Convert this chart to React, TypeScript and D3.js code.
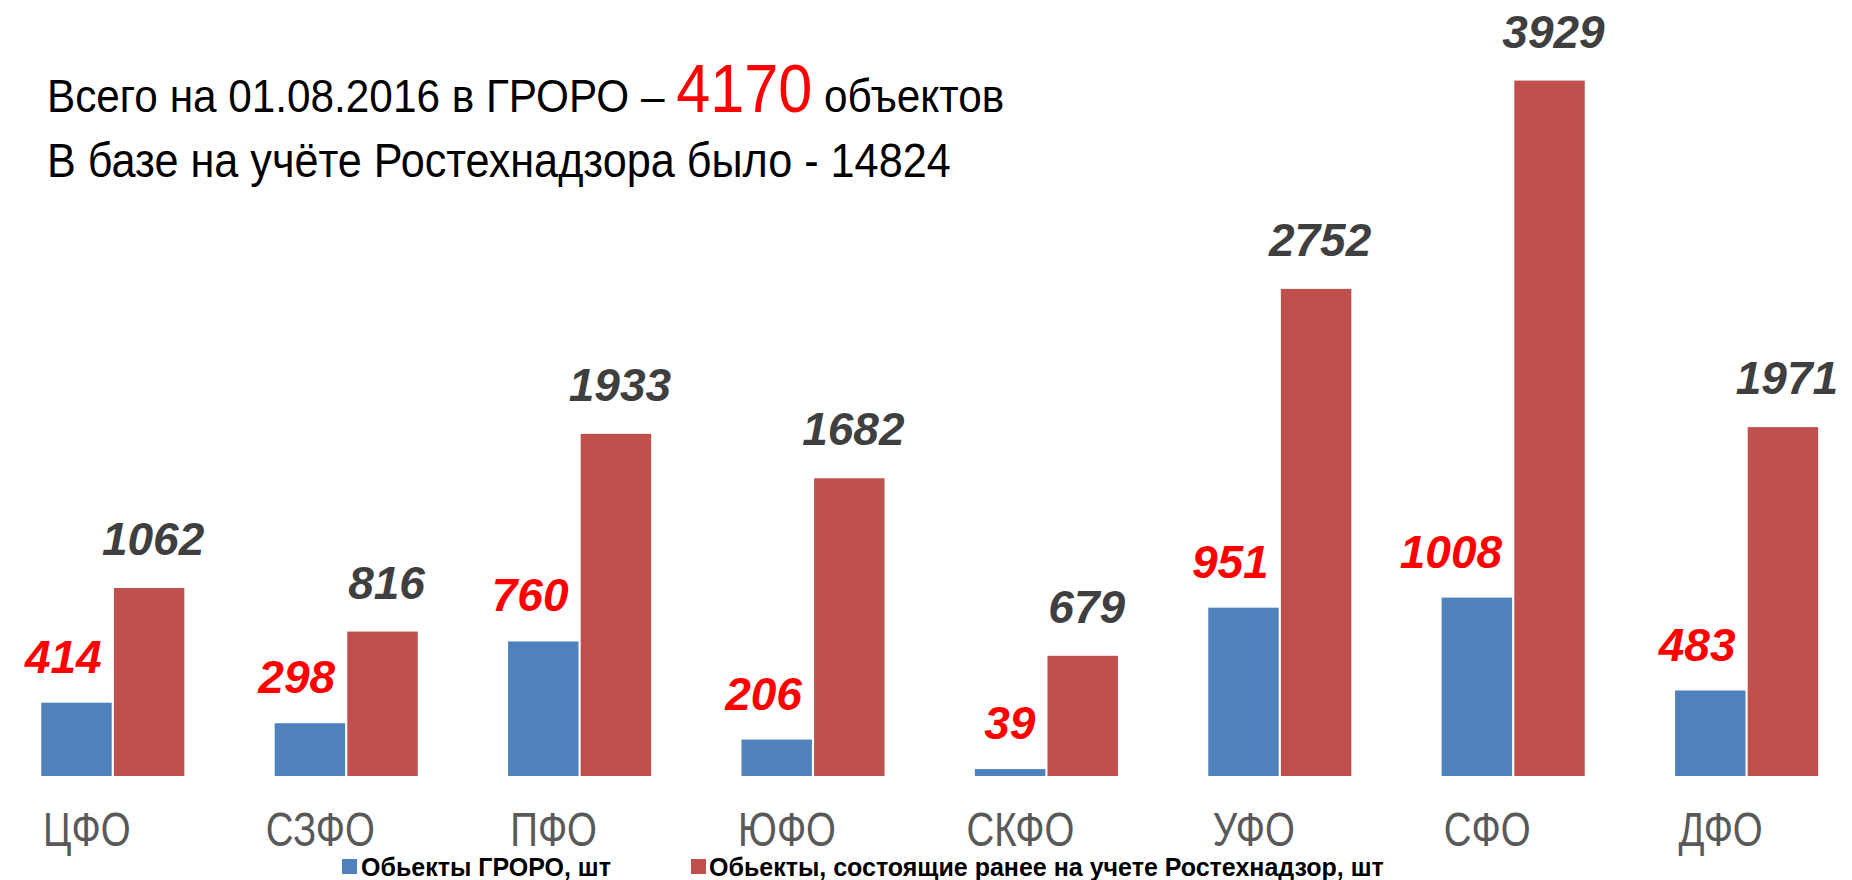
import React from "react";
import * as d3 from "d3";

// federal districts
const categories = ["ЦФО", "СЗФО", "ПФО", "ЮФО", "СКФО", "УФО", "СФО", "ДФО"];
// objects in ГРОРО
const groroValues = [414, 298, 760, 206, 39, 951, 1008, 483];
// objects previously registered at Rostekhnadzor
const rtnValues = [1062, 816, 1933, 1682, 679, 2752, 3929, 1971];
const seriesKeys = ["groro", "rtn"];
const seriesNames = [
  "Обьекты ГРОРО, шт",
  "Обьекты, состоящие ранее на учете Ростехнадзор, шт",
];
const totalGroro = 4170;
const totalRtn = 14824;

const W = 1852;
const H = 880;
const BLUE = "#4F81BD";
const RED = "#C0504D";
const SANS = "'Liberation Sans', Arial, sans-serif";

const App = () => {
  const baseY = 776;

  const x0 = d3
    .scaleBand()
    .domain(categories)
    .range([-3.9, 1863.3])
    .paddingInner(0.387)
    .paddingOuter(0.1935);

  const x1 = d3
    .scaleBand()
    .domain(seriesKeys)
    .range([0, x0.bandwidth()])
    .paddingInner(0.03);

  const y = d3.scaleLinear().domain([0, 4000]).range([baseY, baseY - 708]);

  return (
    <svg
      width={W}
      height={H}
      style={{ position: "absolute", left: 0, top: 0, background: "#fff" }}
    >
      {/* title, squeezed to look like a condensed face */}
      <g transform="translate(47,0) scale(0.9,1)">
        <text x={0} y={112} fontFamily={SANS} fontSize={47} fill="#000">
          {"Всего на 01.08.2016 в ГРОРО – "}
          <tspan fill="#FF0000" fontSize={68}>
            {totalGroro}
          </tspan>
          {" объектов"}
        </text>
        <text x={0} y={177} fontFamily={SANS} fontSize={48} fill="#000">
          {"В базе на учёте Ростехнадзора было - " + totalRtn}
        </text>
      </g>

      {categories.map((c, i) => {
        const gx = x0(c);
        const xb = gx + x1("groro");
        const xr = gx + x1("rtn");
        const bw = x1.bandwidth();
        return (
          <g key={c}>
            <rect
              x={xb}
              y={y(groroValues[i])}
              width={bw}
              height={baseY - y(groroValues[i])}
              fill={BLUE}
            />
            <rect
              x={xr}
              y={y(rtnValues[i])}
              width={bw}
              height={baseY - y(rtnValues[i])}
              fill={RED}
            />
            <text
              x={xb + bw - 10}
              y={y(groroValues[i]) - 30}
              textAnchor="end"
              fontFamily={SANS}
              fontWeight="bold"
              fontStyle="italic"
              fontSize={46}
              fill="#FF0000"
            >
              {groroValues[i]}
            </text>
            <text
              x={xr + bw / 2 + 4}
              y={y(rtnValues[i]) - 33}
              textAnchor="middle"
              fontFamily={SANS}
              fontWeight="bold"
              fontStyle="italic"
              fontSize={46}
              fill="#3F3F3F"
            >
              {rtnValues[i]}
            </text>
            <g transform={`translate(${gx + x0.bandwidth() / 2 - 26},846) scale(0.8,1)`}>
              <text
                x={0}
                y={0}
                textAnchor="middle"
                fontFamily={SANS}
                fontSize={48}
                fill="#595959"
              >
                {c}
              </text>
            </g>
          </g>
        );
      })}

      {/* legend */}
      <rect x={342} y={859} width={15} height={15} fill={BLUE} />
      <text x={361} y={876} fontFamily={SANS} fontWeight="bold" fontSize={25} fill="#000">
        {seriesNames[0]}
      </text>
      <rect x={691} y={859} width={15} height={15} fill={RED} />
      <text x={709} y={876} fontFamily={SANS} fontWeight="bold" fontSize={25} fill="#000">
        {seriesNames[1]}
      </text>
    </svg>
  );
};

export default App;
